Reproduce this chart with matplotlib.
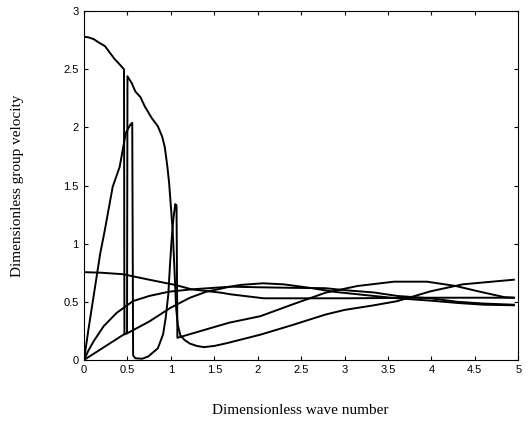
import matplotlib
matplotlib.use('Agg')
import matplotlib.pyplot as plt
import numpy as np

# mode 1: top branch, drops at k~0.46, then follows the hump line
mode1_k = [0, 0.05, 0.11, 0.17, 0.24, 0.30, 0.35, 0.40, 0.46, 0.465, 0.50, 0.75, 1.0, 1.22, 1.41, 1.67,
           1.8, 2.06, 2.3, 2.59, 2.89, 3.34, 3.61, 3.99, 4.3, 4.6, 4.95]
mode1_v = [2.78, 2.775, 2.76, 2.73, 2.70, 2.64, 2.59, 2.55, 2.50, 0.22, 0.23, 0.33, 0.45, 0.535, 0.587, 0.628,
           0.645, 0.659, 0.65, 0.621, 0.585, 0.55, 0.53, 0.51, 0.49, 0.475, 0.47]

# mode 2: low start, jumps up at k~0.5, falls to a dip and rises slowly
mode2_k = [0, 0.46, 0.495, 0.50, 0.55, 0.59, 0.65, 0.70, 0.78, 0.85, 0.90, 0.93, 0.96, 0.98, 1.0, 1.02,
           1.04, 1.06, 1.08, 1.11, 1.16, 1.22, 1.30, 1.38, 1.50, 1.65, 2.03, 2.4, 2.78, 3.0, 3.34, 3.61,
           3.99, 4.36, 4.95]
mode2_v = [0, 0.22, 0.23, 2.44, 2.38, 2.31, 2.26, 2.18, 2.08, 2.01, 1.92, 1.83, 1.66, 1.52, 1.32, 1.12,
           0.80, 0.45, 0.30, 0.21, 0.17, 0.14, 0.12, 0.11, 0.12, 0.145, 0.217, 0.30, 0.39, 0.43, 0.47, 0.506,
           0.59, 0.65, 0.69]

# mode 3: steep rise, drop, U-shape, narrow spike, then straight rise to a hump
mode3_k = [0, 0.05, 0.10, 0.185, 0.24, 0.33, 0.41, 0.48, 0.53, 0.555, 0.565, 0.59, 0.67, 0.74, 0.85, 0.91,
           0.94, 0.97, 0.99, 1.01, 1.03, 1.05, 1.065, 1.075, 1.67, 2.03, 2.4, 2.78, 3.15, 3.57, 3.95, 4.28,
           4.54, 4.84, 4.95]
mode3_v = [0, 0.26, 0.50, 0.91, 1.12, 1.49, 1.66, 1.95, 2.02, 2.04, 0.04, 0.014, 0.01, 0.03, 0.10, 0.22,
           0.36, 0.56, 0.82, 1.05, 1.22, 1.34, 1.33, 0.19, 0.32, 0.376, 0.477, 0.578, 0.636, 0.673, 0.673, 0.636,
           0.59, 0.54, 0.535]

# mode 4: concave rise from the origin, flat, then slow decline
mode4_k = [0, 0.05, 0.11, 0.226, 0.376, 0.564, 0.75, 0.98, 1.24, 1.69, 2.0, 2.4, 2.78, 3.0, 3.34, 3.61,
           3.99, 4.3, 4.6, 4.95]
mode4_v = [0, 0.08, 0.16, 0.29, 0.405, 0.506, 0.55, 0.587, 0.607, 0.63, 0.625, 0.62, 0.617, 0.60, 0.58, 0.55,
           0.53, 0.50, 0.485, 0.475]

# mode 5: slowly decreasing from 0.75 to a flat level
mode5_k = [0, 0.2, 0.45, 0.75, 1.05, 1.24, 1.58, 1.69, 2.07, 2.5, 3.0, 4.0, 4.95]
mode5_v = [0.755, 0.75, 0.737, 0.69, 0.645, 0.607, 0.578, 0.564, 0.53, 0.53, 0.53, 0.535, 0.535]

x_ticks = np.arange(0, 5.01, 0.5)
x_tick_labels = ['0', '0.5', '1', '1.5', '2', '2.5', '3', '3.5', '4', '4.5', '5']
y_ticks = np.arange(0, 3.01, 0.5)
y_tick_labels = ['0', '0.5', '1', '1.5', '2', '2.5', '3']

fig = plt.figure(figsize=(5.32, 4.30), dpi=100)
ax = fig.add_axes([0.158, 0.163, 0.816, 0.811])

for k, v in [(mode1_k, mode1_v), (mode2_k, mode2_v), (mode3_k, mode3_v),
             (mode4_k, mode4_v), (mode5_k, mode5_v)]:
  ax.plot(k, v, color='black', linewidth=1.4)

ax.set_xlim(0, 5)
ax.set_ylim(0, 3)
ax.set_xticks(x_ticks)
ax.set_xticklabels(x_tick_labels)
ax.set_yticks(y_ticks)
ax.set_yticklabels(y_tick_labels)
ax.tick_params(direction='in', length=3, width=0.8, top=True, right=True,
               labelsize=8, pad=4)
for label in ax.get_xticklabels() + ax.get_yticklabels():
  label.set_family('Liberation Sans')
for spine in ax.spines.values():
  spine.set_linewidth(0.8)

ax.set_xlabel('Dimensionless wave number', family='Liberation Serif', fontsize=11)
ax.set_ylabel('Dimensionless group velocity', family='Liberation Serif', fontsize=11)
ax.xaxis.set_label_coords(0.498, -0.125)
ax.yaxis.set_label_coords(-0.138, 0.5)

fig.savefig('out.png', dpi=100)
